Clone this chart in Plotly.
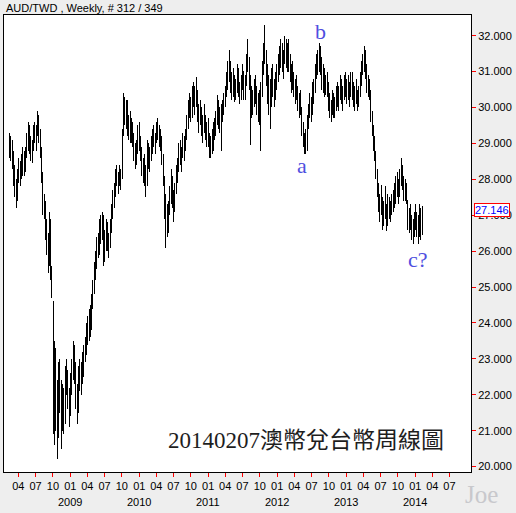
import pandas as pd
import plotly.graph_objects as go

START = "2008-02-15"   # first weekly bar
N_WEEKS = 313          # last bar = 2014-02-07

opens = [
29.0, 28.9, 29.0, 28.5, 28.0, 27.7, 27.5, 28.1, 28.2, 28.4, 28.3, 28.7, 28.3,
28.8, 29.1, 29.4, 28.9, 28.7, 28.9, 29.3, 29.2, 29.4, 29.6, 29.2, 28.8, 28.1,
27.3, 27.1, 26.5, 26.1, 25.7, 26.6, 25.5, 24.5, 21.6, 22.8, 21.5, 21.0, 22.5,
21.9, 21.2, 21.8, 21.3, 22.5, 22.3, 21.9, 21.5, 22.3, 22.8, 23.2, 22.6, 21.8,
21.6, 22.6, 22.4, 22.7, 22.9, 23.2, 23.4, 23.8, 23.6, 24.2, 23.9, 24.6, 25.0,
25.5, 25.8, 26.2, 26.0, 26.7, 26.5, 26.9, 26.0, 26.4, 26.7, 26.2, 26.3, 26.8,
27.2, 27.5, 27.7, 28.1, 27.9, 28.0, 28.2, 28.1, 29.3, 30.1, 29.7, 30.0, 29.4,
29.6, 29.2, 29.5, 29.1, 28.7, 28.6, 28.9, 29.3, 29.0, 28.7, 28.3, 28.4, 28.0,
27.9, 28.9, 28.5, 28.7, 29.0, 29.2, 29.0, 29.2, 29.5, 29.3, 29.2, 29.0, 28.6,
28.0, 27.2, 26.8, 26.6, 27.2, 27.6, 27.9, 27.5, 27.3, 27.8, 28.2, 28.4, 28.8,
28.6, 28.7, 29.1, 28.9, 29.3, 29.6, 30.0, 30.1, 29.8, 30.4, 30.2, 30.4, 30.3,
29.8, 29.9, 29.7, 29.4, 29.6, 29.5, 29.3, 29.4, 29.0, 28.8, 29.0, 28.9, 29.4,
29.3, 29.7, 30.1, 29.6, 29.8, 29.9, 30.0, 30.2, 30.5, 30.8, 31.1, 30.9, 30.6,
30.8, 30.5, 30.4, 30.7, 31.0, 30.5, 30.3, 30.8, 31.0, 30.4, 30.7, 31.3, 31.2,
30.7, 30.2, 30.0, 30.3, 30.6, 30.3, 30.0, 29.9, 30.2, 30.4, 31.1, 31.5, 31.4,
30.9, 30.4, 30.5, 30.2, 30.8, 30.5, 30.6, 30.9, 31.0, 31.3, 31.5, 31.7, 31.2,
31.4, 31.8, 31.3, 31.6, 31.2, 30.9, 31.0, 30.8, 30.5, 30.6, 30.3, 30.0, 30.2,
29.9, 29.4, 29.1, 29.0, 28.9, 29.6, 29.9, 30.3, 29.8, 30.5, 30.6, 31.0, 31.3,
31.1, 31.5, 31.2, 30.7, 30.9, 30.5, 30.7, 30.4, 30.1, 29.9, 30.0, 30.3, 29.8,
30.1, 30.4, 30.2, 30.5, 30.6, 30.3, 30.4, 30.8, 30.5, 30.6, 30.4, 30.6, 30.8,
30.4, 30.3, 30.5, 30.3, 30.1, 30.4, 30.8, 31.1, 31.2, 31.4, 31.0, 30.6, 30.5,
30.4, 29.8, 29.4, 29.0, 28.7, 28.2, 27.7, 27.3, 27.4, 27.2, 26.9, 27.2, 27.0,
26.8, 27.4, 27.1, 27.2, 27.4, 27.5, 27.7, 27.9, 27.8, 27.6, 28.1, 28.2, 27.9,
27.6, 27.7, 27.4, 26.8, 27.0, 26.7, 26.5, 26.6, 26.9, 26.8, 26.6, 26.4, 27.0, 26.5,
]

highs = [
29.3, 29.2, 29.1, 28.8, 28.4, 28.0, 28.3, 28.6, 28.5, 28.7, 28.9, 28.8, 28.9,
29.3, 29.6, 29.5, 29.2, 29.1, 29.5, 29.6, 29.5, 29.9, 29.8, 29.4, 28.9, 28.2,
27.6, 27.4, 26.9, 26.5, 27.1, 26.9, 25.6, 24.6, 23.5, 23.3, 22.4, 22.9, 23.0,
22.4, 22.3, 22.2, 22.8, 23.0, 22.7, 22.2, 22.6, 23.0, 23.5, 23.4, 22.9, 22.3,
22.8, 23.0, 22.9, 23.2, 23.4, 23.6, 24.0, 24.2, 24.4, 24.5, 24.8, 25.2, 25.7,
26.0, 26.4, 26.5, 26.9, 27.0, 27.1, 27.0, 26.6, 26.9, 26.8, 26.5, 26.9, 27.3,
27.7, 27.9, 28.3, 28.4, 28.2, 28.4, 28.3, 29.4, 30.4, 30.3, 30.2, 30.2, 29.8,
29.9, 29.7, 29.6, 29.3, 29.0, 29.1, 29.5, 29.6, 29.2, 28.9, 28.6, 28.7, 28.4,
29.1, 29.0, 28.9, 29.2, 29.4, 29.5, 29.3, 29.6, 29.7, 29.5, 29.4, 29.2, 28.7,
28.1, 27.6, 27.3, 27.4, 27.8, 28.3, 28.1, 27.7, 27.9, 28.4, 28.6, 29.0, 29.1,
28.9, 29.3, 29.2, 29.4, 29.8, 30.2, 30.4, 30.3, 30.6, 30.7, 30.6, 30.85, 30.5,
30.1, 30.2, 30.0, 29.8, 30.1, 29.8, 29.6, 29.7, 29.3, 29.2, 29.4, 29.6, 29.7,
29.9, 30.35, 30.2, 30.0, 30.1, 30.2, 30.4, 30.6, 31.0, 31.3, 31.6, 31.3, 31.0,
31.1, 30.9, 30.8, 31.2, 31.1, 30.7, 30.9, 31.2, 31.0, 30.9, 31.5, 31.9, 31.4,
30.9, 30.6, 30.5, 30.8, 30.9, 30.6, 30.4, 30.5, 30.7, 31.3, 31.8, 32.3, 31.6,
31.2, 30.9, 30.8, 31.1, 31.2, 30.8, 31.0, 31.2, 31.5, 31.7, 31.9, 31.8, 31.6,
32.0, 31.9, 31.8, 31.9, 31.5, 31.2, 31.3, 31.0, 30.8, 30.9, 30.6, 30.4, 30.5,
30.0, 29.6, 29.3, 29.4, 29.8, 30.1, 30.4, 30.3, 30.7, 30.8, 31.2, 31.5, 31.6,
31.8, 31.7, 31.4, 31.2, 31.1, 30.9, 31.0, 30.7, 30.4, 30.2, 30.5, 30.4, 30.3,
30.6, 30.7, 30.6, 30.9, 30.8, 30.6, 30.9, 31.0, 30.8, 30.9, 30.7, 31.0, 31.0,
30.7, 30.6, 30.8, 30.5, 30.6, 31.0, 31.3, 31.5, 31.7, 31.6, 31.2, 30.9, 30.8,
30.5, 29.9, 29.5, 29.2, 28.8, 28.3, 27.9, 27.6, 27.85, 27.5, 27.4, 27.8, 27.3,
27.6, 27.5, 27.4, 27.6, 27.7, 27.9, 28.1, 28.2, 28.0, 28.3, 28.6, 28.4, 28.1,
28.0, 27.9, 27.4, 27.2, 27.3, 27.0, 26.9, 27.1, 27.3, 27.1, 27.0, 27.3, 27.2, 27.25,
]

lows = [
28.6, 28.5, 28.3, 27.8, 27.5, 27.2, 27.4, 27.9, 27.8, 28.0, 28.1, 28.1, 28.2,
28.6, 28.8, 28.7, 28.5, 28.45, 28.8, 29.0, 28.8, 29.2, 29.0, 28.6, 27.9, 27.0,
26.9, 26.3, 25.9, 25.4, 25.6, 25.2, 24.7, 20.9, 20.6, 21.0, 20.2, 20.8, 21.5,
20.5, 21.0, 20.9, 21.2, 22.0, 21.6, 21.1, 21.4, 22.0, 22.4, 22.3, 21.6, 21.2,
21.5, 22.1, 22.0, 22.3, 22.5, 22.9, 23.1, 23.4, 23.5, 23.6, 23.8, 24.4, 24.8,
25.2, 25.5, 25.8, 25.9, 26.2, 26.3, 25.6, 25.7, 26.0, 26.0, 25.8, 26.1, 26.5,
26.9, 27.2, 27.5, 27.8, 27.6, 27.8, 27.7, 28.0, 29.2, 29.5, 29.4, 29.2, 29.1,
29.0, 29.0, 28.9, 28.5, 28.3, 28.4, 28.7, 28.8, 28.5, 28.1, 27.9, 27.8, 27.5,
27.8, 28.3, 28.2, 28.5, 28.7, 28.9, 28.7, 29.0, 29.1, 28.9, 28.8, 28.4, 27.8,
26.9, 26.1, 26.4, 26.5, 27.0, 27.3, 27.2, 26.8, 27.1, 27.6, 27.9, 28.2, 28.4,
28.2, 28.6, 28.5, 28.8, 29.1, 29.4, 29.7, 29.6, 29.7, 30.0, 29.8, 30.0, 29.6,
29.3, 29.5, 29.2, 29.0, 29.3, 29.1, 28.9, 28.9, 28.6, 28.6, 28.7, 28.8, 29.1,
29.2, 29.5, 29.4, 29.3, 28.8, 29.6, 29.8, 30.0, 30.3, 30.5, 30.7, 30.4, 30.2,
30.3, 30.15, 30.2, 30.4, 30.3, 30.1, 30.2, 30.5, 30.2, 30.2, 30.6, 31.0, 30.5,
28.95, 29.7, 29.8, 30.0, 30.1, 29.8, 29.6, 29.5, 28.8, 30.3, 30.9, 31.2, 30.6,
30.1, 29.8, 29.4, 30.0, 30.3, 30.0, 30.2, 30.5, 30.7, 30.9, 31.1, 31.0, 30.8,
31.2, 31.1, 31.0, 31.0, 30.7, 30.4, 30.5, 30.3, 30.1, 30.2, 29.9, 29.7, 29.8,
29.2, 28.9, 28.7, 28.7, 28.8, 29.4, 29.7, 29.6, 29.8, 30.1, 30.4, 30.8, 30.9,
31.0, 30.9, 30.5, 30.4, 30.3, 30.35, 30.3, 29.9, 29.7, 29.6, 29.8, 29.7, 29.7,
29.9, 30.0, 29.9, 30.2, 30.1, 29.9, 30.2, 30.3, 30.1, 30.2, 30.0, 30.3, 30.2,
30.0, 29.9, 30.1, 29.9, 30.0, 30.3, 30.6, 30.9, 31.0, 30.8, 30.4, 30.3, 30.2,
29.6, 29.2, 28.8, 28.5, 28.0, 27.5, 27.1, 26.8, 27.0, 26.6, 26.7, 26.9, 26.55,
26.7, 26.9, 26.8, 27.0, 27.1, 27.2, 27.3, 27.5, 27.3, 27.5, 27.8, 27.7, 27.4,
27.4, 27.3, 26.6, 26.5, 26.6, 26.3, 26.2, 26.4, 26.6, 26.4, 26.2, 26.4, 26.3, 26.45,
]

closes = [
28.9, 29.0, 28.5, 28.0, 27.7, 27.5, 28.1, 28.2, 28.4, 28.3, 28.7, 28.3, 28.8,
29.1, 29.4, 28.9, 28.7, 28.9, 29.3, 29.2, 29.4, 29.6, 29.2, 28.8, 28.1, 27.3,
27.1, 26.5, 26.1, 25.7, 26.6, 25.5, 24.9, 21.6, 22.8, 21.5, 21.0, 22.5, 21.9,
21.2, 21.8, 21.3, 22.5, 22.3, 21.9, 21.5, 22.3, 22.8, 23.2, 22.6, 21.8, 21.6,
22.6, 22.4, 22.7, 22.9, 23.2, 23.4, 23.8, 23.6, 24.2, 23.9, 24.6, 25.0, 25.5,
25.8, 26.2, 26.0, 26.7, 26.5, 26.9, 26.0, 26.4, 26.7, 26.2, 26.3, 26.8, 27.2,
27.5, 27.7, 28.1, 27.9, 28.0, 28.2, 28.1, 29.3, 30.1, 29.7, 30.0, 29.4, 29.6,
29.2, 29.5, 29.1, 28.7, 28.6, 28.9, 29.3, 29.0, 28.7, 28.3, 28.4, 28.0, 27.9,
28.9, 28.5, 28.7, 29.0, 29.2, 29.0, 29.2, 29.5, 29.3, 29.2, 29.0, 28.6, 28.0,
27.2, 26.8, 26.6, 27.2, 27.6, 27.9, 27.5, 27.3, 27.8, 28.2, 28.4, 28.8, 28.6,
28.7, 29.1, 28.9, 29.3, 29.6, 30.0, 30.1, 29.8, 30.4, 30.2, 30.4, 30.3, 29.8,
29.9, 29.7, 29.4, 29.6, 29.5, 29.3, 29.4, 29.0, 28.8, 29.0, 28.9, 29.4, 29.3,
29.7, 30.1, 29.6, 29.8, 29.9, 30.0, 30.2, 30.5, 30.8, 31.1, 30.9, 30.6, 30.8,
30.5, 30.4, 30.7, 31.0, 30.5, 30.3, 30.8, 31.0, 30.4, 30.7, 31.3, 31.2, 30.7,
30.2, 30.0, 30.3, 30.6, 30.3, 30.0, 29.9, 30.2, 30.4, 31.1, 31.5, 31.4, 30.9,
30.4, 30.5, 30.2, 30.8, 30.5, 30.6, 30.9, 31.0, 31.3, 31.5, 31.7, 31.2, 31.4,
31.8, 31.3, 31.6, 31.2, 30.9, 31.0, 30.8, 30.5, 30.6, 30.3, 30.0, 30.2, 29.9,
29.4, 29.1, 29.0, 28.9, 29.6, 29.9, 30.3, 29.8, 30.5, 30.6, 31.0, 31.3, 31.1,
31.5, 31.2, 30.7, 30.9, 30.5, 30.7, 30.4, 30.1, 29.9, 30.0, 30.3, 29.8, 30.1,
30.4, 30.2, 30.5, 30.6, 30.3, 30.4, 30.8, 30.5, 30.6, 30.4, 30.6, 30.8, 30.4,
30.3, 30.5, 30.3, 30.1, 30.4, 30.8, 31.1, 31.2, 31.4, 31.0, 30.6, 30.5, 30.4,
29.8, 29.4, 29.0, 28.7, 28.2, 27.7, 27.3, 27.4, 27.2, 26.9, 27.2, 27.0, 26.8,
27.4, 27.1, 27.2, 27.4, 27.5, 27.7, 27.9, 27.8, 27.6, 28.1, 28.2, 27.9, 27.6,
27.7, 27.4, 26.8, 27.0, 26.7, 26.5, 26.6, 26.9, 26.8, 26.6, 26.4, 27.0, 26.5, 27.146,
]

y_ticks = [20, 21, 22, 23, 24, 25, 26, 27, 28, 29, 30, 31, 32]
x_tick_dates = pd.date_range("2008-04-01", "2014-07-01", freq="QS-JAN")
years = [2009, 2010, 2011, 2012, 2013, 2014]
last_price = closes[-1]

dates = pd.date_range(START, periods=N_WEEKS, freq="7D")

FONT = "Liberation Sans, Arial, sans-serif"
SERIF = "Liberation Serif, Times New Roman, serif"

fig = go.Figure(go.Ohlc(
    x=dates, open=opens, high=highs, low=lows, close=closes,
    increasing=dict(line=dict(color="black", width=1)),
    decreasing=dict(line=dict(color="black", width=1)),
    tickwidth=0.3, hoverinfo="skip",
))

W, H = 516, 513
ML, MR, MT, MB = 4, 45, 15, 41
PW, PH = W - ML - MR, H - MT - MB

def px_x(px):
    return (px - ML) / PW

def px_y(py):
    return (H - MB - py) / PH

def label(text, x, y, size, color, family=SERIF):
    return dict(text=text, x=px_x(x), y=px_y(y), xref="paper", yref="paper",
                xanchor="center", yanchor="middle", showarrow=False,
                font=dict(family=family, size=size, color=color))

WAVE = "#4f4fe0"
annotations = [
    dict(text="AUD/TWD , Weekly, # 312 / 349", x=px_x(4), y=px_y(8), xref="paper", yref="paper",
         xanchor="left", yanchor="middle", showarrow=False, font=dict(family=FONT, size=11, color="black")),
    label("20140207澳幣兌台幣周線圖", 306, 440, 23, "#1e1e1e",
          family="Liberation Serif, Noto Sans CJK TC, serif"),
    label("a", 302, 165, 22, WAVE),
    label("b", 320, 31, 22, WAVE),
    label("c?", 418, 259, 22, WAVE),
    label("Joe", 481, 495, 25, "#c8c8cc"),
    dict(text=f"{last_price:.3f}", x=px_x(474), y=last_price, xref="paper", yref="y",
         xanchor="left", yanchor="middle", showarrow=False, bgcolor="white",
         bordercolor="red", borderwidth=1, borderpad=0,
         font=dict(family=FONT, size=11, color="blue")),
]
for yr in years:
    annotations.append(dict(text=str(yr), x=f"{yr}-01-01", y=px_y(502), xref="x", yref="paper",
                            xanchor="center", yanchor="middle", showarrow=False,
                            font=dict(family=FONT, size=11, color="black")))

fig.update_layout(
    width=W, height=H,
    margin=dict(l=ML, r=MR, t=MT, b=MB),
    paper_bgcolor="#eeeeee", plot_bgcolor="white",
    showlegend=False,
    font=dict(family=FONT, size=11, color="black"),
    annotations=annotations,
    xaxis=dict(
        type="date", range=["2008-01-16", "2014-10-23"],
        rangeslider=dict(visible=False),
        tickmode="array", tickvals=list(x_tick_dates),
        ticktext=[d.strftime("%m") for d in x_tick_dates],
        ticks="outside", ticklen=4, tickcolor="red", tickwidth=1,
        showline=True, linecolor="black", linewidth=1, mirror=True,
        showgrid=False, zeroline=False, tickfont=dict(size=11, color="black"),
    ),
    yaxis=dict(
        side="right", range=[19.85, 32.575],
        tickmode="array", tickvals=y_ticks, ticktext=[f"{v:.3f}" for v in y_ticks],
        ticks="outside", ticklen=4, tickcolor="red", tickwidth=1,
        showline=True, linecolor="black", linewidth=1, mirror=True,
        showgrid=False, zeroline=False, tickfont=dict(size=11, color="black"),
    ),
)

fig.write_html(
    "out.html",
    config={"displayModeBar": False},
    post_script=(
        "document.body.style.margin='0';document.body.style.overflow='hidden';"
        "document.querySelectorAll('.ohlclayer path').forEach(function(p){"
        "p.style.shapeRendering='crispEdges';});"
    ),
)
